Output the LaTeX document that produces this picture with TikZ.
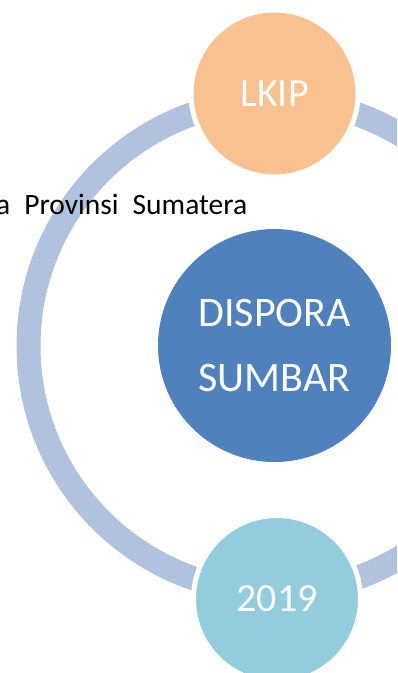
\documentclass[tikz,border=0pt]{standalone}
\usepackage{fontspec}
\setmainfont{Carlito}
\usepackage{tikz}
\usetikzlibrary{positioning}
\definecolor{ringblue}{HTML}{B0C2DD}
\definecolor{lkippeach}{HTML}{F9C18F}
\definecolor{disporablue}{HTML}{4F81BD}
\definecolor{tahunblue}{HTML}{93CDDD}

\begin{document}
\begin{tikzpicture}[x=1pt,y=-1pt,
    bubble/.style={circle, fill=#1, draw=white, line width=5pt, text=white,
        inner sep=0pt, minimum size=167pt, font=\fontsize{40}{46}\selectfont},
    hub/.style={circle, fill=disporablue, text=white, inner sep=0pt,
        minimum size=233pt, align=center, font=\fontsize{42}{65}\selectfont}]
    \useasboundingbox (0,0) rectangle (397,673);
    \clip (0,0) rectangle (397,673);
    % ring behind everything
    \draw[ringblue, line width=24pt] (274.5,346) circle (246);
    \node[anchor=base west, inner sep=0pt,
        font={\fontsize{29.5}{34}\selectfont\spaceskip=14pt}] (judul) at (-4,214) {a Provinsi Sumatera};
    \node[hub] (dispora) at (274.5,345.5) {DISPORA\\SUMBAR};
    \node[bubble=lkippeach] (lkip) at (274.5,93.5) {LKIP};
    \node[bubble=tahunblue] (tahun) at (277,599) {2019};
\end{tikzpicture}
\end{document}
